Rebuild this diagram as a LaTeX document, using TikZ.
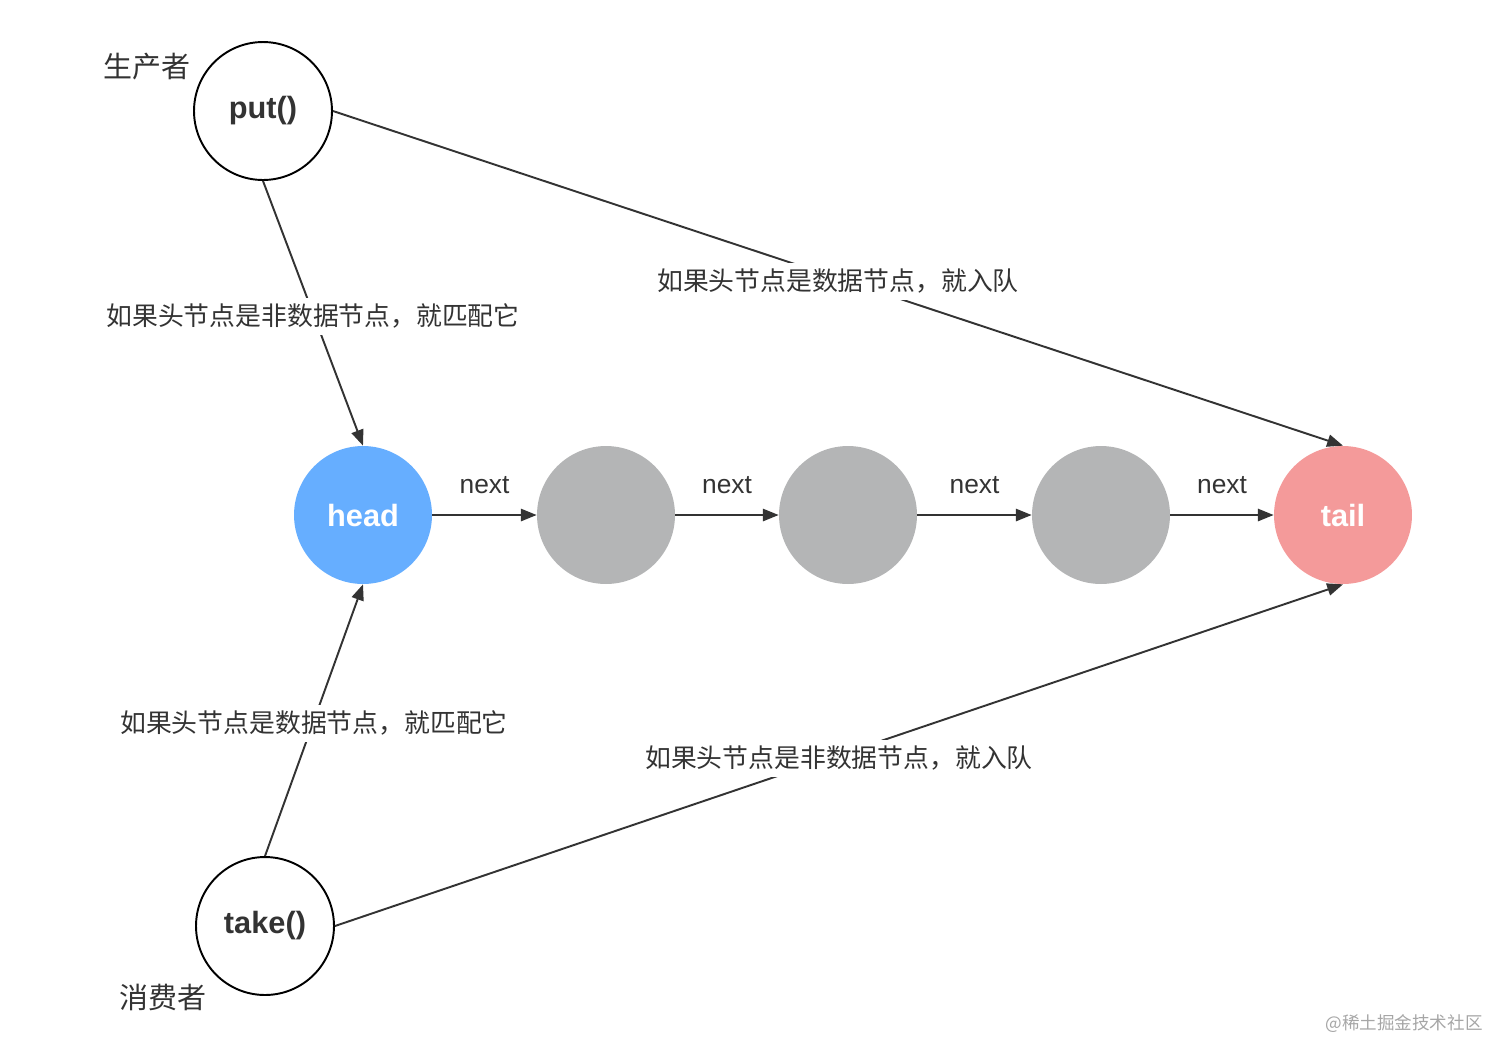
\documentclass[tikz,border=0pt]{standalone}
\usepackage{fontspec}
\usepackage{tikz}
\usetikzlibrary{arrows.meta, positioning}
\setmainfont{Liberation Sans}
\newfontfamily\cjk{Noto Sans CJK SC}
\definecolor{headBlue}{HTML}{66AEFF}
\definecolor{nodeGray}{HTML}{B4B5B6}
\definecolor{tailPink}{HTML}{F49A9A}
\definecolor{lineDark}{HTML}{333333}

\begin{document}
\begin{tikzpicture}[
    x=0.02cm, y=-0.02cm,
    ball/.style={circle, minimum size=2.76cm, inner sep=0pt, font=\fontsize{17.5}{20}\selectfont\bfseries},
    opball/.style={ball, draw=black, line width=1.1pt, text=lineDark},
    arrow/.style={-{Triangle[length=9pt, width=7pt]}, line width=1.1pt, draw=lineDark},
    tag/.style={fill=white, inner sep=2.5pt, text height=13pt, text depth=3pt, yshift=-2pt, text=lineDark, font=\cjk\fontsize{14.7}{18}\selectfont},
    nextlbl/.style={above=8pt, midway, text=lineDark, font=\fontsize{15}{18}\selectfont},
    role/.style={text=lineDark, font=\cjk\fontsize{16.5}{20}\selectfont},
]
    \useasboundingbox (0,0) rectangle (1512,1063);

    \node[opball] (put) at (263,111) {put()};
    \node[opball] (take) at (265,926) {take()};
    \node[role] (producer) at (147,67) {生产者};
    \node[role] (consumer) at (163,997) {消费者};

    \node[ball, fill=headBlue, text=white] (head) at (363,515) {head};
    \node[ball, fill=nodeGray] (n1) at (606,515) {};
    \node[ball, fill=nodeGray] (n2) at (848,515) {};
    \node[ball, fill=nodeGray] (n3) at (1101,515) {};
    \node[ball, fill=tailPink, text=white] (tail) at (1343,515) {tail};

    \draw[arrow] (head) -- (n1) node[nextlbl] {next};
    \draw[arrow] (n1) -- (n2) node[nextlbl] {next};
    \draw[arrow] (n2) -- (n3) node[nextlbl] {next};
    \draw[arrow] (n3) -- (tail) node[nextlbl] {next};

    \draw[arrow] (put.south) -- (head.north) node[tag, midway] {如果头节点是非数据节点，就匹配它};
    \draw[arrow] (put.east) -- (tail.north) node[tag, midway] {如果头节点是数据节点，就入队};
    \draw[arrow] (take.north) -- (head.south) node[tag, midway] {如果头节点是数据节点，就匹配它};
    \draw[arrow] (take.east) -- (tail.south) node[tag, midway] {如果头节点是非数据节点，就入队};

    \node[text=black!35, font=\cjk\fontsize{10}{12}\selectfont] (mark) at (1404,1024) {@稀土掘金技术社区};
\end{tikzpicture}
\end{document}
